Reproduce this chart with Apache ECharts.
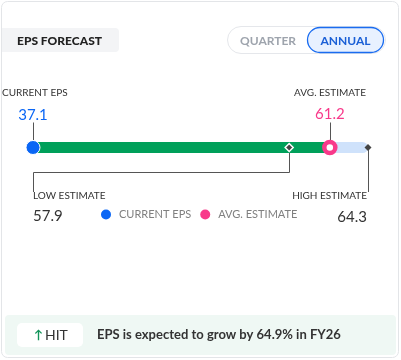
<!DOCTYPE html>
<html><head><meta charset="utf-8">
<script src="https://cdn.jsdelivr.net/npm/echarts@6/dist/echarts.min.js"></script>
<style>html,body{margin:0;padding:0;background:#fff}#c{width:401px;height:360px}</style>
</head><body><div id="c"></div>
<script>
const currentEps = 37.1;
const lowEstimate = 57.9;
const avgEstimate = 61.2;
const highEstimate = 64.3;
const categories = ['FY26'];
const legendNames = ['CURRENT EPS', 'AVG. ESTIMATE'];
const growthText = 'EPS is expected to grow by 64.9% in FY26';

const BLUE = '#0a66f5', PINK = '#f8398a', GREEN = '#00a05a', LIGHT = '#cfe2fb';
const FONT = 'Lato';
const chart = echarts.init(document.getElementById('c'), null, {renderer: 'canvas'});

const base = {
  animation: false,
  textStyle: {fontFamily: FONT},
  grid: {left: 33, right: 33, top: 142, height: 11},
  xAxis: {type: 'value', min: currentEps, max: highEstimate, show: false},
  yAxis: {type: 'category', data: categories, show: false},
  legend: {
    left: 101, top: 209, padding: 0, itemWidth: 10, itemHeight: 10, itemGap: 9,
    icon: 'circle', selectedMode: false,
    data: [
      {name: legendNames[0], itemStyle: {color: BLUE, borderWidth: 0, opacity: 1}},
      {name: legendNames[1], itemStyle: {color: PINK, borderWidth: 0, opacity: 1}}
    ],
    textStyle: {color: '#808080', fontSize: 11, fontFamily: FONT, padding: [0, 0, 0, 3]}
  },
  series: [
    {type: 'bar', name: 'range', data: [highEstimate], barWidth: 11, clip: true, z: 1,
     itemStyle: {color: LIGHT, borderRadius: [0, 6, 6, 0]}, silent: true},
    {type: 'bar', name: 'avg-bar', data: [avgEstimate], barWidth: 11, barGap: '-100%', clip: true, z: 2,
     itemStyle: {color: GREEN}, silent: true},
    {type: 'scatter', name: 'low', data: [[lowEstimate, categories[0]]], symbol: 'diamond', symbolSize: 8, clip: false, zlevel: 1,
     itemStyle: {color: '#444', borderColor: '#fff', borderWidth: 1.5, opacity: 1}},
    {type: 'scatter', name: 'high', data: [[highEstimate, categories[0]]], symbol: 'diamond', symbolSize: 7, clip: false, zlevel: 1,
     itemStyle: {color: '#444', opacity: 1}},
    {type: 'scatter', name: legendNames[0], data: [[currentEps, categories[0]]], symbol: 'circle', symbolSize: 14, clip: false, zlevel: 1,
     itemStyle: {color: BLUE, borderColor: '#fff', borderWidth: 1, opacity: 1}},
    {type: 'scatter', name: legendNames[1], data: [[avgEstimate, categories[0]]], symbol: 'circle', symbolSize: 11, clip: false, zlevel: 1,
     itemStyle: {color: '#fff', borderColor: PINK, borderWidth: 4.5, opacity: 1}}
  ]
};
chart.setOption(base);

const px = v => chart.convertToPixel({xAxisIndex: 0}, v);
const xc = px(currentEps), xl = px(lowEstimate), xa = px(avgEstimate), xh = px(highEstimate);
const LC = '#555';
const line = (x1, y1, x2, y2) => ({type: 'line', silent: true, shape: {x1, y1, x2, y2}, style: {stroke: LC, lineWidth: 1}});
const text = (x, y, t, o) => ({type: 'text', silent: true, x, y, style: Object.assign({text: t, fontFamily: FONT, verticalAlign: 'middle'}, o)});
const r = v => Math.round(v) + 0.5;

const graphic = [
  {type: 'rect', z: -10, shape: {x: 1.5, y: 1.5, width: 397, height: 356, r: 6}, style: {fill: '#fff', stroke: '#e3e5e8', lineWidth: 1}},
  {type: 'rect', z: -5, shape: {x: 2, y: 28, width: 117, height: 24, r: [0, 4, 4, 0]}, style: {fill: '#f3f4f6'}},
  text(17, 41, 'EPS FORECAST', {fontSize: 12, fontWeight: 900, fill: '#222'}),
  {type: 'rect', z: -5, shape: {x: 227.5, y: 26.5, width: 158, height: 27, r: 13.5}, style: {fill: '#fff', stroke: '#e5e7eb', lineWidth: 1}},
  {type: 'rect', z: -4, shape: {x: 307.5, y: 27.5, width: 76, height: 25, r: 12.5}, style: {fill: '#e8f1ff', stroke: '#1a6cf0', lineWidth: 1.3}},
  text(268, 41, 'QUARTER', {fontSize: 12, fontWeight: 'bold', fill: '#9ea4ad', align: 'center'}),
  text(345.5, 41, 'ANNUAL', {fontSize: 12, fontWeight: 'bold', fill: '#1a5fd6', align: 'center'}),
  text(2, 93, 'CURRENT EPS', {fontSize: 10, fill: '#333'}),
  text(xc, 115, String(currentEps), {fontSize: 15, fill: BLUE, align: 'center'}),
  line(r(xc), 122.5, r(xc), 140),
  text(366, 93, 'AVG. ESTIMATE', {fontSize: 10, fill: '#333', align: 'right'}),
  text(xa, 114, String(avgEstimate), {fontSize: 15, fill: PINK, align: 'center'}),
  line(r(xa), 122.5, r(xa), 140),
  line(r(xl), 152, r(xl), 172.5),
  line(r(xc), 172.5, r(xl), 172.5),
  line(r(xc), 172.5, r(xc), 192),
  text(xc, 196, 'LOW ESTIMATE', {fontSize: 10, fill: '#333'}),
  text(xc, 216, String(lowEstimate), {fontSize: 15, fill: '#333'}),
  line(r(xh), 150, r(xh), 192),
  text(xh - 1, 196, 'HIGH ESTIMATE', {fontSize: 10, fill: '#333', align: 'right'}),
  text(xh - 1, 217, String(highEstimate), {fontSize: 15, fill: '#333', align: 'right'}),
  {type: 'rect', z: -5, shape: {x: 5, y: 315, width: 391, height: 40, r: 4}, style: {fill: '#eff8f4'}},
  {type: 'rect', z: -4, shape: {x: 17, y: 323, width: 66, height: 24, r: 5}, style: {fill: '#fff'}},
  text(34, 335, '↑', {fontSize: 12, fontWeight: 'bold', fill: '#12945a'}),
  text(45, 335, 'HIT', {fontSize: 14, fill: '#333'}),
  text(97, 335, growthText, {fontSize: 13, fontWeight: 'bold', fill: '#333'})
];
chart.setOption({graphic});
</script></body></html>
